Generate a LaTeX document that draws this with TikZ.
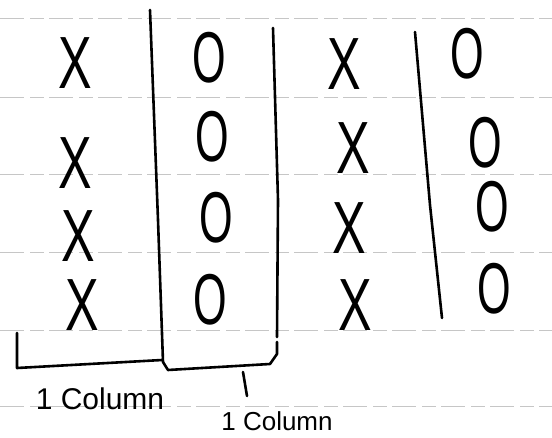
\documentclass[tikz,border=0pt]{standalone}
\usepackage{fontspec}
\setmainfont{Liberation Sans}
\begin{document}
\begin{tikzpicture}[x=1pt,y=-1pt,
  rule/.style={draw=gray!45, line width=0.8pt, dash pattern=on 24pt off 6pt on 14pt off 5pt},
  ink/.style={draw=black, line width=2.6pt, line cap=round, line join=round},
  xmark/.style={font=\fontsize{74}{74}\selectfont, inner sep=0pt},
  omark/.style={font=\fontsize{72}{72}\selectfont, inner sep=0pt},
  lbl/.style={font=\fontsize{30}{30}\selectfont, inner sep=0pt}]
\useasboundingbox[fill=white] (0,0) rectangle (552,437);
% ruled paper lines
\foreach \yy/\nm in {18/r1,97/r2,174/r3,252/r4,330/r5,406/r6}{
  \coordinate (\nm a) at (0,\yy);
  \coordinate (\nm b) at (552,\yy);
  \draw[rule] (\nm a) -- (\nm b);
}
% X marks, column 1
\node[xmark] (x1) at (75,63) {\scalebox{0.68}[1]{X}};
\node[xmark] (x2) at (75,163) {\scalebox{0.68}[1]{X}};
\node[xmark] (x3) at (78,236) {\scalebox{0.68}[1]{X}};
\node[xmark] (x4) at (82,305) {\scalebox{0.68}[1]{X}};
% O marks, column 2
\node[omark] (o1) at (209,58) {\scalebox{0.6}[1]{O}};
\node[omark] (o2) at (212,137) {\scalebox{0.6}[1]{O}};
\node[omark] (o3) at (216,218) {\scalebox{0.6}[1]{O}};
\node[omark] (o4) at (210,300) {\scalebox{0.6}[1]{O}};
% X marks, column 3
\node[xmark] (x5) at (344,64) {\scalebox{0.68}[1]{X}};
\node[xmark] (x6) at (353,148) {\scalebox{0.68}[1]{X}};
\node[xmark] (x7) at (349,228) {\scalebox{0.68}[1]{X}};
\node[xmark] (x8) at (355,305) {\scalebox{0.68}[1]{X}};
% O marks, column 4
\node[omark] (o5) at (467,54) {\scalebox{0.6}[1]{O}};
\node[omark] (o6) at (485,143) {\scalebox{0.6}[1]{O}};
\node[omark] (o7) at (492,207) {\scalebox{0.6}[1]{O}};
\node[omark] (o8) at (494,289) {\scalebox{0.6}[1]{O}};
% divider lines and brackets
\coordinate (v1top) at (150,10);
\coordinate (v1mid) at (158,220);
\coordinate (v1bot) at (163,362);
\coordinate (b2a) at (168,370);
\coordinate (b2b) at (270,364);
\coordinate (b2c) at (277,354);
\coordinate (b2d) at (277,342);
\coordinate (v2top) at (273,28);
\coordinate (v2mid) at (278,200);
\coordinate (v2bot) at (277,337);
\coordinate (v3top) at (415,32);
\coordinate (v3mid) at (430,205);
\coordinate (v3bot) at (442,318);
\coordinate (b1a) at (17,333);
\coordinate (b1b) at (17,368);
\coordinate (b1c) at (162,360);
\draw[ink] (v1top) -- (v1mid) -- (v1bot) -- (b2a) -- (b2b) -- (b2c) -- (b2d);
\draw[ink] (v2top) -- (v2mid) -- (v2bot);
\draw[ink] (v3top) -- (v3mid) -- (v3bot);
\draw[ink] (b1a) -- (b1b) -- (b1c);
% labels
\node[lbl] (l1) at (100,399) {1 Column};
\node[lbl, font=\fontsize{26}{26}\selectfont] (l2) at (277,421) {1 Column};
\coordinate (tk1) at (243,372);
\coordinate (tk2) at (247,396);
\draw[ink] (tk1) -- (tk2);
\end{tikzpicture}
\end{document}
